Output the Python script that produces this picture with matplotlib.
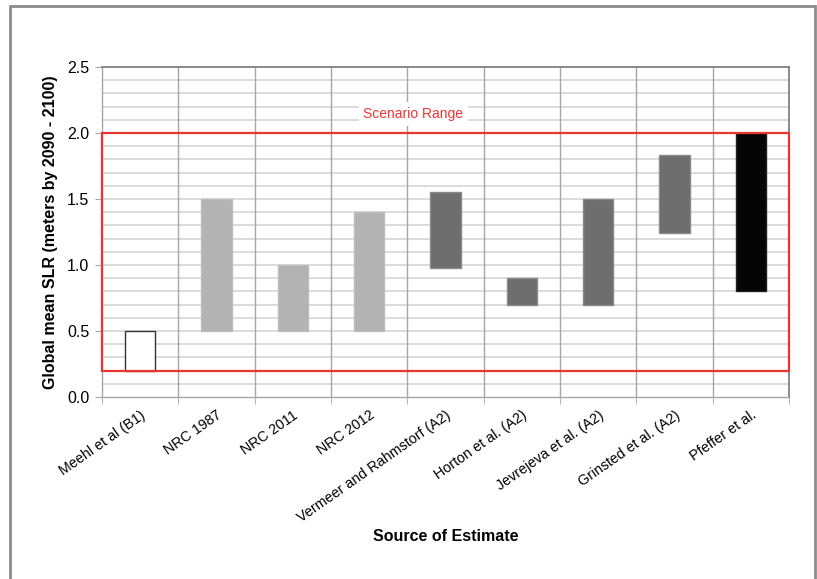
import matplotlib
matplotlib.use("Agg")
import matplotlib.pyplot as plt
from matplotlib.patches import Rectangle
import numpy as np

plt.rcParams['font.family'] = ['Liberation Sans', 'DejaVu Sans']

categories = ["Meehl et al (B1)", "NRC 1987", "NRC 2011", "NRC 2012",
              "Vermeer and Rahmstorf (A2)", "Horton et al. (A2)",
              "Jevrejeva et al. (A2)", "Grinsted et al. (A2)", "Pfeffer et al."]
low_values = [0.2, 0.5, 0.5, 0.5, 0.98, 0.70, 0.70, 1.24, 0.80]
high_values = [0.5, 1.5, 1.0, 1.4, 1.55, 0.90, 1.50, 1.83, 2.0]
bar_colors = ["white", "#b3b3b3", "#b3b3b3", "#b3b3b3", "#6e6e6e",
              "#6e6e6e", "#6e6e6e", "#6e6e6e", "#050505"]
edge_colors = ["#333333", "#bdbdbd", "#bdbdbd", "#bdbdbd", "#8a8a8a",
               "#8a8a8a", "#8a8a8a", "#8a8a8a", "#202020"]
scenario_low, scenario_high = 0.2, 2.0
y_ticks = [0.0, 0.5, 1.0, 1.5, 2.0, 2.5]

fig = plt.figure(figsize=(8.17, 5.79), dpi=100)
ax = fig.add_axes([102/817, 1-397/579, (789-102)/817, (397-67)/579])

x = np.arange(len(categories))
heights = [h - l for h, l in zip(high_values, low_values)]
ax.bar(x, heights, bottom=low_values, width=0.4, color=bar_colors,
       edgecolor=edge_colors, linewidth=1.0, zorder=3)

ax.set_xlim(-0.5, len(categories) - 0.5)
ax.set_ylim(0, 2.5)

# gridlines
ax.set_yticks(y_ticks)
ax.set_yticklabels([f"{v:.1f}" for v in y_ticks], fontsize=11.5)
ax.set_yticks(np.arange(0, 2.51, 0.1), minor=True)
for yv in np.arange(0.1, 2.5, 0.1):
    ax.axhline(yv, color="#d9d9d9", linewidth=1.3, zorder=1)
ax.set_xticks(x)
ax.set_xticklabels(categories, rotation=35, ha="right", rotation_mode="anchor",
                   fontsize=10.3)
ax.set_xticks(np.arange(-0.5, len(categories), 1.0), minor=True)
for xv in np.arange(0.5, len(categories) - 0.5, 1.0):
    ax.axvline(xv, color="#a6a6a6", linewidth=1.0, zorder=1)

ax.tick_params(axis="x", which="major", length=0, pad=8)
ax.tick_params(axis="x", which="minor", length=5, color="#a6a6a6")
ax.tick_params(axis="y", which="major", length=5, color="#a6a6a6", pad=4)
ax.tick_params(axis="y", which="minor", length=0)

for side in ["left", "bottom"]:
    ax.spines[side].set_color("#a6a6a6")
    ax.spines[side].set_linewidth(1.0)
for side in ["top", "right"]:
    ax.spines[side].set_color("#808080")
    ax.spines[side].set_linewidth(1.3)

# scenario range box
ax.add_patch(Rectangle((-0.5, scenario_low), len(categories),
                       scenario_high - scenario_low, fill=False,
                       edgecolor="#ee3333", linewidth=1.6, zorder=4,
                       clip_on=False))
ax.text(3.58, 2.145, "Scenario Range", color="#ee3333", fontsize=10,
        ha="center", va="center", zorder=5,
        bbox=dict(facecolor="white", edgecolor="none", pad=3.5))

ax.set_ylabel("Global mean SLR (meters by 2090 - 2100)", fontsize=11.5,
              fontweight="bold", labelpad=7)
ax.set_xlabel("Source of Estimate", fontsize=11.5, fontweight="bold",
              labelpad=3)

# outer frame
fig.patches.append(Rectangle((10/817, -0.05), (815-10)/817, 1 + 0.05 - 6/579,
                             transform=fig.transFigure, fill=False,
                             edgecolor="#8c8c8c", linewidth=2.0))

fig.savefig("out.png", dpi=100)
